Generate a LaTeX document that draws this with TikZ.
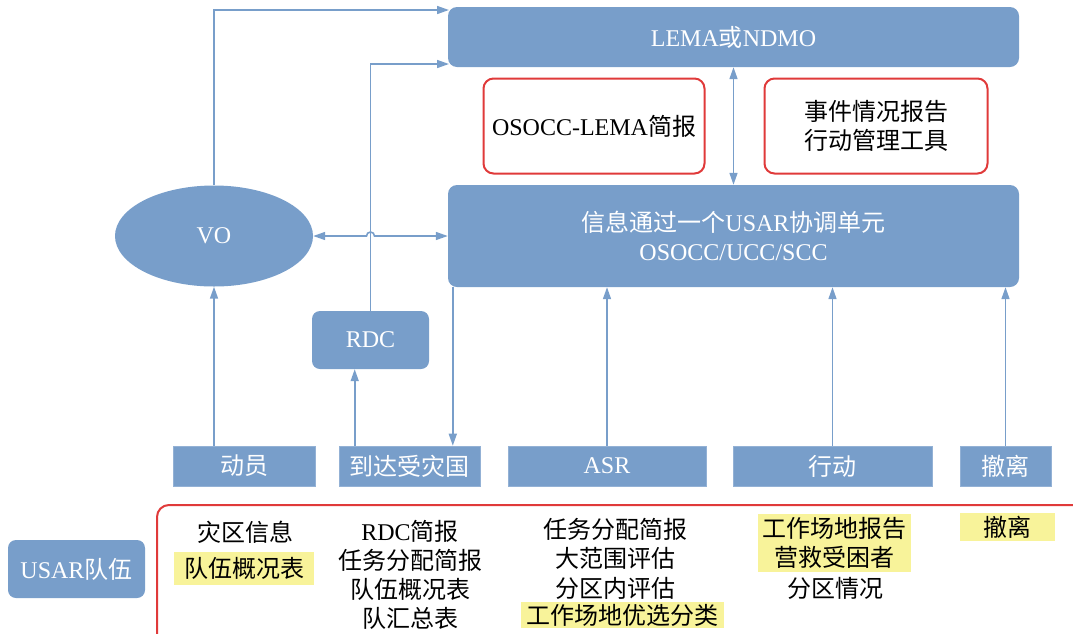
\documentclass[tikz,border=0pt]{standalone}
\usepackage{fontspec}
\setmainfont{Liberation Serif}
\newfontfamily\zhfont{Noto Sans CJK SC}
\newcommand{\zh}[1]{{\zhfont #1}}
\newcommand{\bodysize}{\fontsize{24}{29}\selectfont}
\usetikzlibrary{shapes.geometric}
\usetikzlibrary{arrows.meta}
\definecolor{ublue}{HTML}{789ECA}
\definecolor{ured}{HTML}{E03A3A}
\definecolor{uyellow}{HTML}{F8F39A}

\begin{document}
\begin{tikzpicture}[x=1pt, y=-1pt,
	bluebox/.style={rectangle, rounded corners=9pt, fill=ublue, text=white, font=\bodysize, align=center, inner sep=0pt},
	redbox/.style={rectangle, rounded corners=10pt, draw=ured, line width=2pt, fill=white, font=\bodysize, align=center, inner sep=0pt},
	stepbox/.style={rectangle, fill=ublue, draw=ublue!80!white, line width=0.6pt, minimum height=40pt, text=white, font=\bodysize, inner sep=0pt},
	item/.style={font=\bodysize, align=center, inner sep=0pt},
	hl/.style={item, fill=uyellow},
	link/.style={draw=ublue, line width=1.6pt},
	arr/.style={link, -{Triangle[length=12pt, width=8pt]}},
	biarr/.style={link, {Triangle[length=12pt, width=8pt]}-{Triangle[length=12pt, width=8pt]}},
	]
	\clip (0,0) rectangle (1073,633);
	%Nodes
	\node[bluebox, minimum width=571pt, minimum height=60pt]	(lema)	at (733.5,37)	{LEMA\zh{或}NDMO};
	\node[redbox, minimum width=221pt, minimum height=95pt]	(brief)	at (594,126)	{OSOCC-LEMA\zh{简报}};
	\node[redbox, minimum width=223pt, minimum height=95pt]	(tools)	at (876,126)	{\zh{事件情况报告}\\\zh{行动管理工具}};
	\node[bluebox, minimum width=571pt, minimum height=102pt]	(osocc)	at (733.5,236)	{\zh{信息通过一个}USAR\zh{协调单元}\\OSOCC/UCC/SCC};
	\node[ellipse, fill=ublue, text=white, font=\bodysize, minimum width=198pt, minimum height=101pt, inner sep=0pt]	(vo)	at (214,236)	{VO};
	\node[bluebox, rounded corners=8pt, minimum width=117pt, minimum height=58pt]	(rdc)	at (370.5,340)	{RDC};
	
	%Steps
	\node[stepbox, minimum width=142pt]	(mob)	at (244,466)	{\zh{动员}};
	\node[stepbox, minimum width=141pt]	(arrive)	at (409.5,466)	{\zh{到达受灾国}};
	\node[stepbox, minimum width=198pt]	(asr)	at (607,466)	{ASR};
	\node[stepbox, minimum width=199pt]	(ops)	at (832.5,466)	{\zh{行动}};
	\node[stepbox, minimum width=91pt]	(demob)	at (1005.5,466)	{\zh{撤离}};
	
	%Team and products
	\node[bluebox, rounded corners=8pt, minimum width=137pt, minimum height=58pt]	(team)	at (76.5,569)	{USAR\zh{队伍}};
	\draw[ured, line width=2pt, rounded corners=12pt] (157,505) rectangle (1095,660);
	
	\node[item]	(c1a)	at (245,532)	{\zh{灾区信息}};
	\node[hl, minimum width=140pt, minimum height=33pt]	(c1b)	at (244,568)	{\zh{队伍概况表}};
	
	\node[item]	(c2a)	at (410,531)	{RDC\zh{简报}};
	\node[item]	(c2b)	at (410,560)	{\zh{任务分配简报}};
	\node[item]	(c2c)	at (410,589)	{\zh{队伍概况表}};
	\node[item]	(c2d)	at (410,618)	{\zh{队汇总表}};
	
	\node[item]	(c3a)	at (615,529)	{\zh{任务分配简报}};
	\node[item]	(c3b)	at (615,558)	{\zh{大范围评估}};
	\node[item]	(c3c)	at (615,588)	{\zh{分区内评估}};
	\node[hl, minimum width=203pt, minimum height=26pt]	(c3d)	at (622.5,615)	{\zh{工作场地优选分类}};
	
	\node[hl, minimum width=153pt, minimum height=58pt]	(c4a)	at (834.5,543)	{\zh{工作场地报告}\\\zh{营救受困者}};
	\node[item]	(c4b)	at (835,588)	{\zh{分区情况}};
	
	\node[hl, minimum width=95pt, minimum height=28pt]	(c5a)	at (1007.5,527)	{\zh{撤离}};
	
	%Connectors
	\coordinate (lemaA) at (449,10);
	\coordinate (lemaB) at (449,64);
	\coordinate (hop) at (rdc.north |- vo.east);
	\coordinate (drop) at ([xshift=5pt]osocc.south west);
	\coordinate (rise) at ([xshift=16pt]arrive.north west);
	
	\draw[arr] (vo.north) |- (lemaA);
	\draw[arr] (rdc.north) |- (lemaB);
	\draw[biarr] (lema.south) -- (osocc.north);
	\draw[biarr] (vo.east) -- ([xshift=-4pt]hop) arc[start angle=180, end angle=360, radius=4] -- (osocc.west);
	\draw[arr] (drop) -- (drop |- arrive.north);
	\draw[arr] (vo.south |- mob.north) -- (vo.south);
	\draw[arr] (rise) -- (rise |- rdc.south);
	\draw[arr] (asr.north) -- (asr.north |- osocc.south);
	\draw[arr] (ops.north) -- (ops.north |- osocc.south);
	\draw[arr] (demob.north) -- (demob.north |- osocc.south);
\end{tikzpicture}
\end{document}
